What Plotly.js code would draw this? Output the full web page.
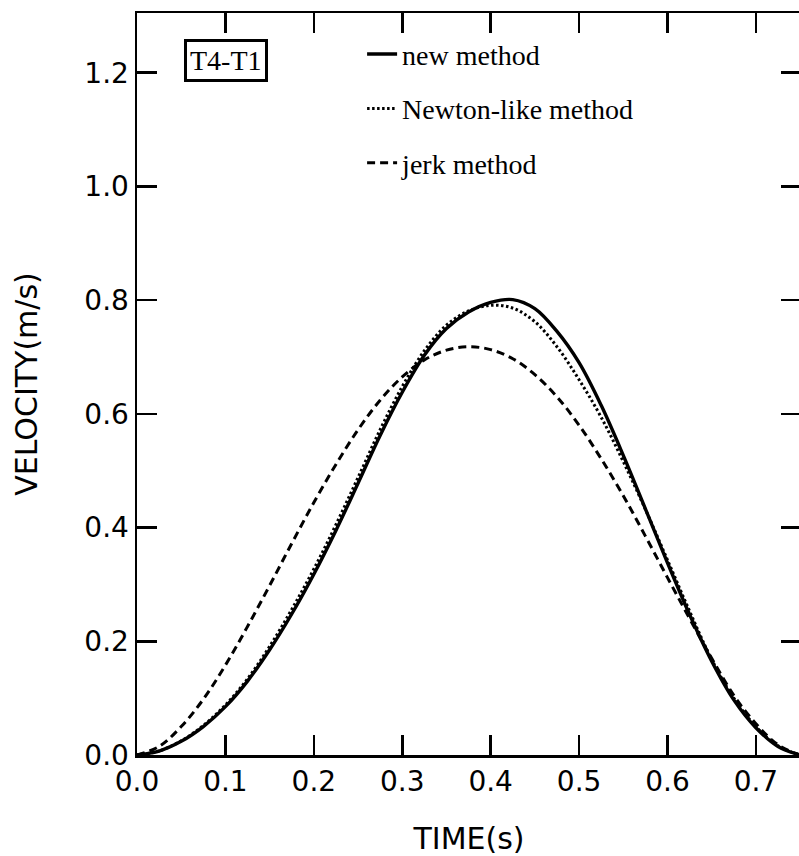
<!DOCTYPE html>
<html>
<head>
<meta charset="utf-8">
<script src="https://cdn.plot.ly/plotly-3.0.1.min.js"></script>
<style>
html, body { margin: 0; padding: 0; overflow: hidden; background: #fff; }
#chart { width: 801px; height: 856px; }
</style>
</head>
<body>
<div id="chart"></div>
<script>
// time samples (s)
const time = [0, 0.025, 0.05, 0.075, 0.1, 0.125, 0.15, 0.175, 0.2, 0.225, 0.25, 0.275, 0.3, 0.325, 0.35, 0.375,
              0.4, 0.425, 0.45, 0.475, 0.5, 0.525, 0.55, 0.575, 0.6, 0.625, 0.65, 0.675, 0.7, 0.725, 0.75];
// velocity (m/s) - new method
const newMethod = [0, 0.007, 0.024, 0.050, 0.085, 0.130, 0.185, 0.248, 0.318, 0.395, 0.478, 0.562, 0.638, 0.703, 0.750, 0.779,
                   0.796, 0.801, 0.785, 0.745, 0.690, 0.615, 0.527, 0.433, 0.338, 0.247, 0.165, 0.097, 0.048, 0.015, 0];
// velocity (m/s) - Newton-like method
const newtonLike = [0, 0.007, 0.025, 0.052, 0.088, 0.134, 0.191, 0.256, 0.327, 0.405, 0.488, 0.572, 0.648, 0.711, 0.756, 0.781,
                    0.791, 0.786, 0.762, 0.718, 0.660, 0.594, 0.516, 0.432, 0.343, 0.253, 0.168, 0.100, 0.050, 0.016, 0];
// velocity (m/s) - jerk method
const jerkMethod = [0, 0.015, 0.050, 0.098, 0.158, 0.226, 0.298, 0.372, 0.444, 0.511, 0.572, 0.624, 0.665, 0.695, 0.712, 0.718,
                    0.713, 0.697, 0.669, 0.630, 0.580, 0.521, 0.456, 0.385, 0.312, 0.240, 0.170, 0.105, 0.055, 0.018, 0];

const seriesNames = ['new method', 'Newton-like method', 'jerk method'];
const xTitle = 'TIME(s)';
const yTitle = 'VELOCITY(m/s)';
const boxLabel = 'T4-T1';

const traces = [
  { x: time, y: newMethod, name: seriesNames[0], legendgroup: 'a', type: 'scatter', mode: 'lines',
    line: { color: '#000', width: 3.4, shape: 'spline', smoothing: 1 } },
  { x: time, y: newtonLike, name: seriesNames[1], legendgroup: 'b', type: 'scatter', mode: 'lines',
    line: { color: '#000', width: 3, dash: '2.5px,2.5px', shape: 'spline', smoothing: 1 } },
  { x: time, y: jerkMethod, name: seriesNames[2], legendgroup: 'c', type: 'scatter', mode: 'lines',
    line: { color: '#000', width: 3, dash: '8px,5px', shape: 'spline', smoothing: 1 } }
];

const axisCommon = {
  showline: true, linecolor: '#000', linewidth: 2.5, mirror: 'ticks',
  ticks: 'inside', ticklen: 20, tickwidth: 2.5, tickcolor: '#000',
  showgrid: false, zeroline: false, tickformat: '.1f',
  tickfont: { family: 'DejaVu Sans', size: 28, color: '#000' },
  automargin: false, fixedrange: true
};

const layout = {
  width: 801, height: 856,
  margin: { l: 137, r: 0, t: 13, b: 101 },
  paper_bgcolor: '#fff', plot_bgcolor: '#fff',
  showlegend: true,
  legend: {
    x: 0.339, y: 0.978, xanchor: 'left', yanchor: 'top',
    bgcolor: 'rgba(0,0,0,0)', borderwidth: 0,
    traceorder: 'grouped', tracegroupgap: 15,
    font: { family: 'Liberation Serif', size: 28, color: '#000' }
  },
  xaxis: Object.assign({}, axisCommon, {
    range: [0, 0.751], tick0: 0, dtick: 0.1,
    title: { text: xTitle, font: { family: 'DejaVu Sans', size: 30, color: '#000' }, standoff: 33 }
  }),
  yaxis: Object.assign({}, axisCommon, {
    range: [0, 1.305], tick0: 0, dtick: 0.2,
    title: { text: yTitle, font: { family: 'DejaVu Sans', size: 30, color: '#000' }, standoff: 38 }
  }),
  annotations: [{
    text: boxLabel, xref: 'paper', yref: 'paper', x: 0.134, y: 0.936,
    xanchor: 'center', yanchor: 'middle', showarrow: false,
    font: { family: 'Liberation Serif', size: 28, color: '#000' },
    bordercolor: '#000', borderwidth: 3, borderpad: 3, bgcolor: '#fff'
  }]
};

Plotly.newPlot('chart', traces, layout, { staticPlot: true, displayModeBar: false });
</script>
</body>
</html>
